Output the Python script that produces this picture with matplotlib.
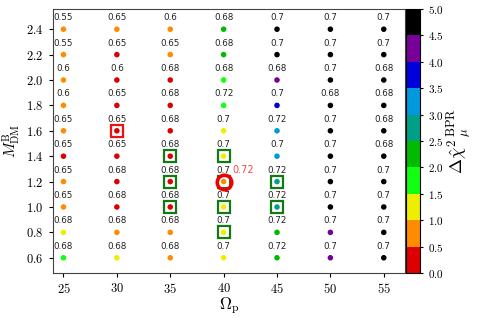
import numpy as np
import matplotlib
matplotlib.use("Agg")
import matplotlib.pyplot as plt
from matplotlib.colors import ListedColormap, BoundaryNorm

plt.rcParams['mathtext.fontset'] = 'cm'

# data
omega_p = [25, 30, 35, 40, 45, 50, 55]
m_dm = [0.6, 0.8, 1.0, 1.2, 1.4, 1.6, 1.8, 2.0, 2.2, 2.4]

# delta chi^2 (rows = m_dm, cols = omega_p)
dchi = [
    [1.7, 1.2, 0.8, 1.2, 2.2, 4.2, 4.8],
    [1.2, 0.8, 0.8, 1.2, 2.2, 4.2, 4.8],
    [0.8, 0.3, 0.3, 1.2, 2.7, 4.8, 4.8],
    [0.8, 0.3, 0.3, 0.8, 2.7, 4.8, 4.8],
    [0.3, 0.3, 0.3, 1.2, 3.2, 4.8, 4.8],
    [0.8, 0.3, 0.3, 1.2, 3.2, 4.8, 4.8],
    [0.8, 0.3, 0.3, 1.7, 3.7, 4.8, 4.8],
    [0.8, 0.3, 0.3, 1.7, 4.2, 4.8, 4.8],
    [0.8, 0.3, 0.8, 2.2, 4.8, 4.8, 4.8],
    [0.8, 0.8, 0.8, 2.2, 4.8, 4.8, 4.8],
]

labels = [
    ['0.68', '0.68', '0.68', '0.7', '0.72', '0.7', '0.7'],
    ['0.68', '0.68', '0.68', '0.7', '0.72', '0.7', '0.7'],
    ['0.65', '0.68', '0.68', '0.7', '0.72', '0.7', '0.7'],
    ['0.65', '0.68', '0.68', '0.7', '0.72', '0.7', '0.7'],
    ['0.65', '0.65', '0.68', '0.7', '0.7', '0.7', '0.68'],
    ['0.65', '0.65', '0.68', '0.7', '0.72', '0.7', '0.68'],
    ['0.6', '0.65', '0.68', '0.72', '0.7', '0.68', '0.68'],
    ['0.6', '0.6', '0.68', '0.68', '0.68', '0.7', '0.68'],
    ['0.55', '0.65', '0.65', '0.68', '0.7', '0.7', '0.7'],
    ['0.55', '0.65', '0.6', '0.68', '0.7', '0.7', '0.7'],
]

green_sq = [(35, 1.4), (40, 1.4), (35, 1.2), (40, 1.2), (45, 1.2),
            (35, 1.0), (40, 1.0), (45, 1.0), (40, 0.8)]
red_sq = [(30, 1.6)]
best = (40, 1.2)
best_label = '0.72'

colors = ['#dd0000', '#ff8c00', '#eeee00', '#11ff11', '#00bb00',
          '#00a088', '#0099dd', '#0000dd', '#770099', '#000000']
cmap = ListedColormap(colors)
bounds = np.arange(0, 5.01, 0.5)
norm = BoundaryNorm(bounds, cmap.N)

fig = plt.figure(figsize=(4.8, 3.18), dpi=100)
ax = fig.add_axes([0.110, 0.1415, 0.734, 0.8305])
cax = fig.add_axes([0.846, 0.1415, 0.029, 0.8305])

X, Y = np.meshgrid(omega_p, m_dm)
sc = ax.scatter(X.ravel(), Y.ravel(), c=np.array(dchi).ravel(), cmap=cmap,
                norm=norm, s=16, zorder=3, linewidths=0)

for i, yv in enumerate(m_dm):
    for j, xv in enumerate(omega_p):
        ax.text(xv, yv + 0.055, labels[i][j], ha='center', va='bottom',
                fontsize=6.3, color='#222222')

for xv, yv in green_sq:
    ax.plot(xv, yv, 's', ms=8.5, mfc='none', mec='#127a12', mew=1.6, zorder=4)
for xv, yv in red_sq:
    ax.plot(xv, yv, 's', ms=8.5, mfc='none', mec='#ee1111', mew=1.6, zorder=4)
ax.plot(best[0], best[1], 'o', ms=10.5, mfc='none', mec='#ee0000', mew=2.5, zorder=5)
ax.text(best[0] + 1.8, best[1] + 0.055, best_label, ha='center', va='bottom',
        fontsize=7, color='#ff4444')

ax.set_xlim(24, 57)
ax.set_ylim(0.48, 2.56)
ax.set_xticks(omega_p)
ax.set_xticklabels(['$%d$' % v for v in omega_p])
ax.set_yticks(m_dm)
ax.set_yticklabels(['$%.1f$' % v for v in m_dm])
ax.tick_params(direction='out', length=3, labelsize=9, top=False, right=False)
for s in ax.spines.values():
    s.set_color('#444444')
ax.set_xlabel(r'$\Omega_{\rm p}$', fontsize=12)
ax.xaxis.set_label_coords(0.5, -0.085)
ax.set_ylabel(r'$M_{\rm DM}^{\rm B}$', fontsize=11)
ax.yaxis.set_label_coords(-0.085, 0.5)

cb = fig.colorbar(sc, cax=cax, ticks=bounds)
cb.ax.set_yticklabels(['$%.1f$' % v for v in bounds])
cb.ax.tick_params(labelsize=8, length=2)
cb.set_label(r'$\Delta\hat{\chi}^2{}^{\,\rm BPR}_{\,\mu}$', fontsize=13, labelpad=2)

fig.savefig('out.png', dpi=100)
